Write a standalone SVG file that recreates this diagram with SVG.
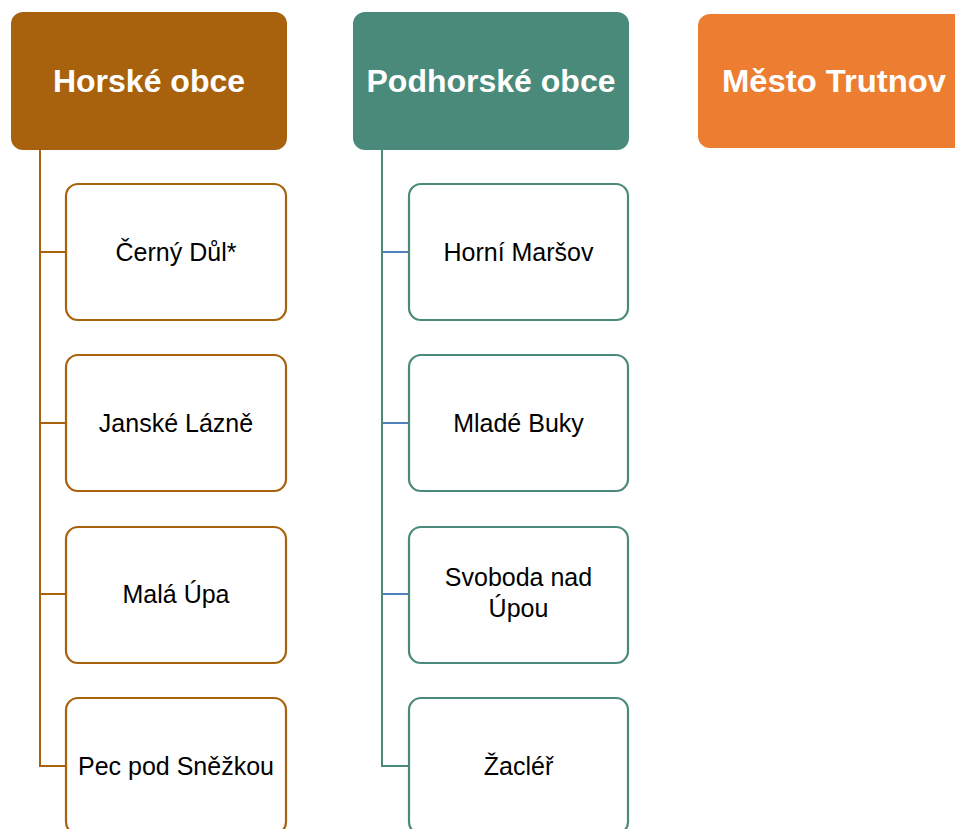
<svg xmlns="http://www.w3.org/2000/svg" width="955" height="829" viewBox="0 0 955 829">
<style>
.hdr{font-family:"Liberation Sans",Arial,sans-serif;font-weight:bold;font-size:32px;fill:#fff;text-anchor:middle}
.lbl{font-family:"Liberation Sans",Arial,sans-serif;font-size:25px;fill:#000;text-anchor:middle}
.cb{fill:#fff;stroke:#A8620D;stroke-width:2.2}
.ct{fill:#fff;stroke:#4A8A7B;stroke-width:2.2}
.lb{fill:none;stroke:#A8620D;stroke-width:2}
.lt{fill:none;stroke:#4A8A7B;stroke-width:2}
.lblue{fill:none;stroke:#4F81BD;stroke-width:2}
</style>
<rect width="955" height="829" fill="#fff"/>
<g id="connectors">
<path class="lb" d="M40 150 V766 H66"/>
<path class="lb" d="M40 252 H66 M40 423 H66 M40 594 H66"/>
<path class="lt" d="M382 150 V766 H409"/>
<path class="lblue" d="M383 252 H409 M383 423 H409 M383 594 H409"/>
</g>
<g id="horske">
<rect x="11" y="12" width="276" height="138" rx="12" fill="#A8620D"/>
<text class="hdr" x="149" y="92">Horské obce</text>
</g>
<g id="podhorske">
<rect x="353" y="12" width="276" height="138" rx="12" fill="#4A8A7B"/>
<text class="hdr" x="491" y="92">Podhorské obce</text>
</g>
<g id="trutnov">
<rect x="698" y="14" width="272" height="134" rx="12" fill="#ED7D31"/>
<text class="hdr" x="834" y="92" textLength="224" lengthAdjust="spacingAndGlyphs">Město Trutnov</text>
</g>
<g id="cerny-dul">
<rect class="cb" x="66" y="184" width="220" height="136" rx="12"/>
<text class="lbl" x="176" y="261">Černý Důl*</text>
</g>
<g id="janske-lazne">
<rect class="cb" x="66" y="355" width="220" height="136" rx="12"/>
<text class="lbl" x="176" y="432">Janské Lázně</text>
</g>
<g id="mala-upa">
<rect class="cb" x="66" y="527" width="220" height="136" rx="12"/>
<text class="lbl" x="176" y="603">Malá Úpa</text>
</g>
<g id="pec">
<rect class="cb" x="66" y="698" width="220" height="136" rx="12"/>
<text class="lbl" x="176" y="775">Pec pod Sněžkou</text>
</g>
<g id="horni-marsov">
<rect class="ct" x="409" y="184" width="219" height="136" rx="12"/>
<text class="lbl" x="518.5" y="261">Horní Maršov</text>
</g>
<g id="mlade-buky">
<rect class="ct" x="409" y="355" width="219" height="136" rx="12"/>
<text class="lbl" x="518.5" y="432">Mladé Buky</text>
</g>
<g id="svoboda">
<rect class="ct" x="409" y="527" width="219" height="136" rx="12"/>
<text class="lbl" x="518.5" y="586">Svoboda nad</text>
<text class="lbl" x="518.5" y="617">Úpou</text>
</g>
<g id="zacler">
<rect class="ct" x="409" y="698" width="219" height="136" rx="12"/>
<text class="lbl" x="518.5" y="775">Žacléř</text>
</g>
</svg>
